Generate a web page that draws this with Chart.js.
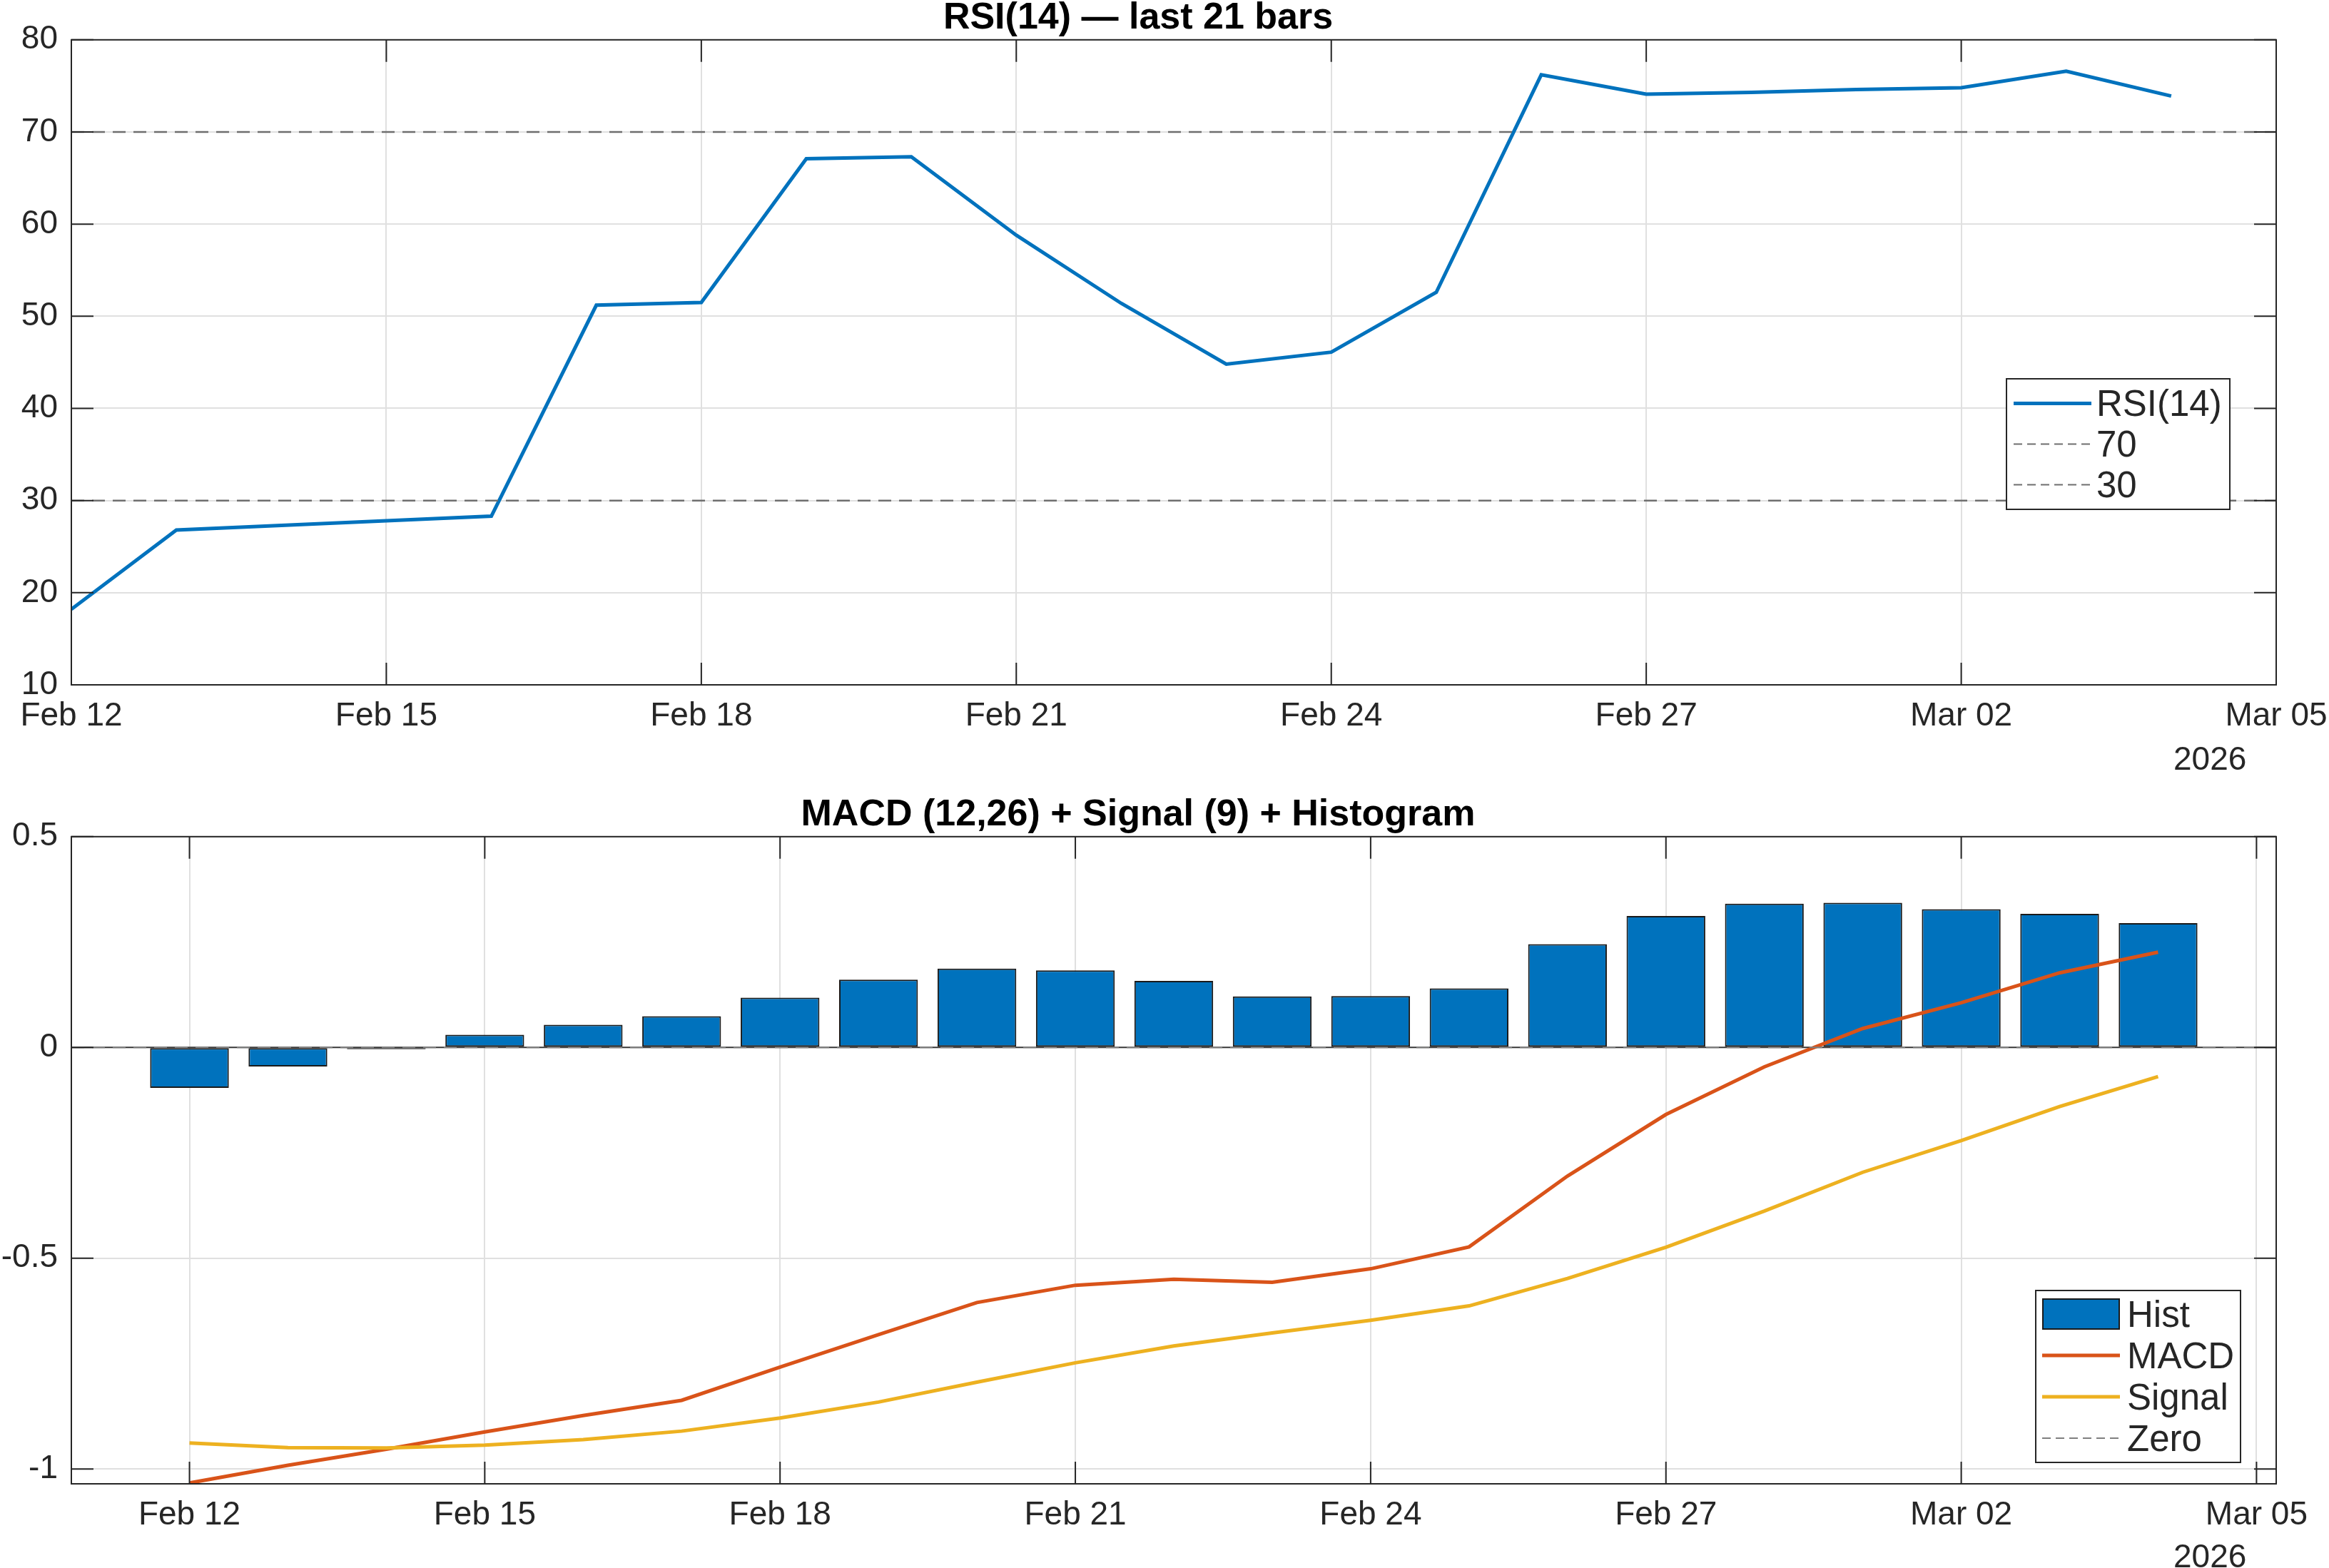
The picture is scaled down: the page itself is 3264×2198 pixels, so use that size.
<!DOCTYPE html>
<html>
<head>
<meta charset="utf-8">
<script src="https://cdn.jsdelivr.net/npm/chart.js@4.4.1/dist/chart.umd.min.js"></script>
<style>
  html, body { margin: 0; padding: 0; background: #fff; }
  body { width: 3264px; height: 2198px; position: relative; overflow: hidden;
    font-family: "Liberation Sans", Arial, Helvetica, sans-serif; color: #262626; }
  canvas { position: absolute; left: 0; }
  #rsi-chart { top: 0; }
  #macd-chart { top: 1090px; }
  .legend { position: absolute; background: #fff; border: 2px solid #262626; box-sizing: border-box; font-size: 51px; }
  .legend .row { display: flex; align-items: center; }
  .legend svg { flex: none; }
  .legend span { line-height: 1; white-space: nowrap; }
  .year { position: absolute; font-size: 46px; line-height: 46px; }
</style>
</head>
<body>
<canvas id="rsi-chart" width="3264" height="1090"></canvas>
<canvas id="macd-chart" width="3264" height="1108"></canvas>
<div id="rsi-legend" class="legend" style="left:2811px;top:530px;width:315px;height:185px;padding:5px 0 0 9px"></div>
<div id="macd-legend" class="legend" style="left:2852px;top:1808px;width:289px;height:243px;padding:3px 0 0 8px"></div>
<div id="year-top" class="year" style="left:3046px;top:1040px"></div>
<div id="year-bottom" class="year" style="left:3046px;top:2158px"></div>
<script>
const FONT = '"Liberation Sans", Arial, Helvetica, sans-serif';
const INK = '#262626';
const GRID = '#e0e0e0';

// data (one value per daily bar, Feb 12 .. Mar 04 2026)
const days = ['Feb 12', 'Feb 13', 'Feb 14', 'Feb 15', 'Feb 16', 'Feb 17', 'Feb 18', 'Feb 19', 'Feb 20', 'Feb 21', 'Feb 22',
	'Feb 23', 'Feb 24', 'Feb 25', 'Feb 26', 'Feb 27', 'Feb 28', 'Mar 01', 'Mar 02', 'Mar 03', 'Mar 04'];
const rsiValues = [18.2, 26.8, 27.3, 27.8, 28.3, 51.2, 51.5, 67.1, 67.3, 58.8, 51.4,
	44.8, 46.1, 52.6, 76.2, 74.1, 74.3, 74.6, 74.8, 76.6, 73.9];
const rsiLevels = [70, 30];
const histValues = [-0.096, -0.045, -0.004, 0.030, 0.054, 0.074, 0.118, 0.161, 0.187, 0.183, 0.158,
	0.121, 0.122, 0.140, 0.245, 0.312, 0.341, 0.343, 0.328, 0.317, 0.295];
const macdValues = [-1.033, -0.991, -0.953, -0.912, -0.873, -0.837, -0.758, -0.681, -0.605, -0.564, -0.550,
	-0.557, -0.525, -0.473, -0.305, -0.159, -0.046, 0.045, 0.106, 0.177, 0.226];
const signalValues = [-0.938, -0.949, -0.950, -0.943, -0.930, -0.910, -0.879, -0.841, -0.794, -0.748, -0.708,
	-0.677, -0.647, -0.613, -0.548, -0.474, -0.388, -0.296, -0.221, -0.140, -0.069];

// axes
const xTickDays = [0, 3, 6, 9, 12, 15, 18, 21];
const xTickLabels = ['Feb 12', 'Feb 15', 'Feb 18', 'Feb 21', 'Feb 24', 'Feb 27', 'Mar 02', 'Mar 05'];
const yearLabel = '2026';
const rsiTicks = [10, 20, 30, 40, 50, 60, 70, 80];
const macdTicks = [-1, -0.5, 0, 0.5];
const rsiXRange = [0, 21];
const macdXRange = [-1.2, 21.2];
const macdYRange = [-1.035, 0.5];

const toPoints = vals => vals.map((v, i) => ({ x: i, y: v }));

// matlab-ish box with inward ticks
const boxPlugin = {
	id: 'box',
	afterDatasetsDraw(chart) {
		const { ctx, chartArea: a, scales: { x, y } } = chart;
		ctx.save();
		ctx.strokeStyle = INK;
		ctx.lineWidth = 2;
		ctx.beginPath();
		x.ticks.forEach(t => {
			const px = x.getPixelForValue(t.value);
			ctx.moveTo(px, a.bottom); ctx.lineTo(px, a.bottom - 31);
			ctx.moveTo(px, a.top); ctx.lineTo(px, a.top + 31);
		});
		y.ticks.forEach(t => {
			const py = y.getPixelForValue(t.value);
			ctx.moveTo(a.left, py); ctx.lineTo(a.left + 31, py);
			ctx.moveTo(a.right, py); ctx.lineTo(a.right - 31, py);
		});
		ctx.stroke();
		ctx.strokeRect(a.left, a.top, a.right - a.left, a.bottom - a.top);
		ctx.restore();
	}
};

// bar baseline, drawn right after the bars
const baselinePlugin = {
	id: 'baseline',
	afterDatasetDraw(chart, args) {
		if (args.meta.type !== 'bar') return;
		const { ctx, chartArea: a, scales: { y } } = chart;
		const py = y.getPixelForValue(0);
		ctx.save();
		ctx.strokeStyle = '#3a3a3a';
		ctx.lineWidth = 2;
		ctx.beginPath();
		ctx.moveTo(a.left, py); ctx.lineTo(a.right, py);
		ctx.stroke();
		ctx.restore();
	}
};

function xScale(range, height) {
	return {
		type: 'linear', min: range[0], max: range[1], offset: false,
		afterBuildTicks: s => { s.ticks = xTickDays.map(v => ({ value: v })); },
		afterFit: s => { s.height = height; s.paddingLeft = 0; s.paddingRight = 0; },
		ticks: {
			autoSkip: false, maxRotation: 0, minRotation: 0, padding: 17, color: INK,
			font: { family: FONT, size: 46 },
			callback: v => xTickLabels[xTickDays.indexOf(v)]
		},
		grid: { color: GRID, lineWidth: 2, drawTicks: false, offset: false },
		border: { display: false }
	};
}

function yScale(range, tickVals) {
	return {
		type: 'linear', min: range[0], max: range[1],
		afterBuildTicks: s => { s.ticks = tickVals.map(v => ({ value: v })); },
		afterFit: s => { s.width = 100; s.paddingTop = 0; s.paddingBottom = 0; },
		ticks: { padding: 19, color: INK, font: { family: FONT, size: 46 }, callback: v => String(v) },
		grid: { color: GRID, lineWidth: 2, drawTicks: false },
		border: { display: false }
	};
}

function titleOpts(text, top) {
	return {
		display: true, text, color: '#000',
		font: { family: FONT, size: 52, weight: 'bold', lineHeight: 0.9 },
		padding: { top, bottom: 7 }
	};
}

// RSI panel
const rsiChart = new Chart(document.querySelector('#rsi-chart'), {
	type: 'line',
	data: {
		datasets: [
			{
				label: 'RSI(14)', data: toPoints(rsiValues), borderColor: '#0072BD',
				borderWidth: 5, pointRadius: 0, tension: 0, order: 2
			},
			...rsiLevels.map(l => ({
				label: String(l), data: rsiXRange.map(x => ({ x, y: l })), borderColor: '#6e6e6e',
				borderWidth: 2.5, borderDash: [18, 11], pointRadius: 0, order: 1
			}))
		]
	},
	options: {
		responsive: false, animation: false, devicePixelRatio: 1,
		layout: { padding: { left: 0, right: 74, top: 0, bottom: 0 } },
		scales: { x: xScale(rsiXRange, 130), y: yScale([10, 80], rsiTicks) },
		plugins: { legend: { display: false }, tooltip: { enabled: false }, title: titleOpts('RSI(14) \u2014 last 21 bars', 2) }
	},
	plugins: [boxPlugin]
});

// MACD panel
const macdChart = new Chart(document.querySelector('#macd-chart'), {
	type: 'bar',
	data: {
		datasets: [
			{
				type: 'bar', label: 'Hist', data: toPoints(histValues), backgroundColor: '#0072BD',
				borderColor: '#1a1a1a', borderWidth: 2, borderSkipped: false,
				barPercentage: 0.8, categoryPercentage: 1, order: 4
			},
			{
				type: 'line', label: 'MACD', data: toPoints(macdValues), borderColor: '#D95319',
				borderWidth: 5, pointRadius: 0, tension: 0, order: 3
			},
			{
				type: 'line', label: 'Signal', data: toPoints(signalValues), borderColor: '#EDB120',
				borderWidth: 5, pointRadius: 0, tension: 0, order: 2
			},
			{
				type: 'line', label: 'Zero', data: macdXRange.map(x => ({ x, y: 0 })), borderColor: '#808080',
				borderWidth: 2, borderDash: [18, 11], pointRadius: 0, order: 1
			}
		]
	},
	options: {
		responsive: false, animation: false, devicePixelRatio: 1,
		layout: { padding: { left: 0, right: 74, top: 0, bottom: 0 } },
		scales: { x: xScale(macdXRange, 118), y: yScale(macdYRange, macdTicks) },
		plugins: { legend: { display: false }, tooltip: { enabled: false }, title: titleOpts('MACD (12,26) + Signal (9) + Histogram', 29) }
	},
	plugins: [baselinePlugin, boxPlugin]
});

// html legends built from the datasets
function buildLegend(chart, el, rowH, gap) {
	const ns = 'http://www.w3.org/2000/svg';
	chart.data.datasets.forEach(ds => {
		const row = document.createElement('div');
		row.className = 'row';
		row.style.height = rowH + 'px';
		const svg = document.createElementNS(ns, 'svg');
		svg.setAttribute('width', 109);
		svg.setAttribute('height', rowH);
		if (ds.type === 'bar') {
			const r = document.createElementNS(ns, 'rect');
			r.setAttribute('x', 1); r.setAttribute('y', rowH / 2 - 21);
			r.setAttribute('width', 107); r.setAttribute('height', 42);
			r.setAttribute('fill', ds.backgroundColor);
			r.setAttribute('stroke', ds.borderColor); r.setAttribute('stroke-width', 2);
			svg.appendChild(r);
		} else {
			const l = document.createElementNS(ns, 'line');
			l.setAttribute('x1', 0); l.setAttribute('x2', 109);
			l.setAttribute('y1', rowH / 2); l.setAttribute('y2', rowH / 2);
			l.setAttribute('stroke', ds.borderColor);
			l.setAttribute('stroke-width', ds.borderDash ? 2 : 5);
			if (ds.borderDash) l.setAttribute('stroke-dasharray', '12 7');
			svg.appendChild(l);
		}
		const span = document.createElement('span');
		span.textContent = ds.label;
		span.style.marginLeft = gap + 'px';
		row.appendChild(svg);
		row.appendChild(span);
		el.appendChild(row);
	});
}
buildLegend(rsiChart, document.querySelector('#rsi-legend'), 57, 7);
buildLegend(macdChart, document.querySelector('#macd-legend'), 58, 10);

document.querySelector('#year-top').textContent = yearLabel;
document.querySelector('#year-bottom').textContent = yearLabel;
</script>
</body>
</html>
